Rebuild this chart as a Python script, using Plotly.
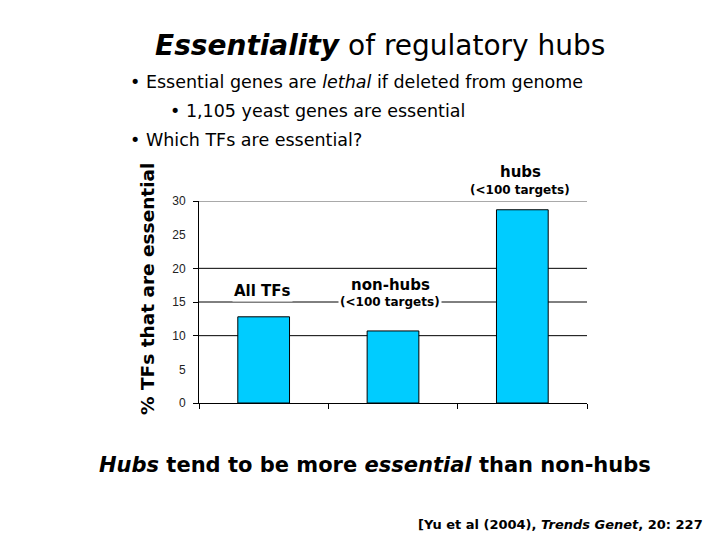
import plotly.graph_objects as go

# ---- data ----
categories = ["All TFs", "non-hubs", "hubs"]
category_notes = ["", "(<100 targets)", "(<100 targets)"]
pct_essential = [12.8, 10.7, 28.7]
y_ticks = [0, 5, 10, 15, 20, 25, 30]
grid_levels = [0, 10, 15, 20, 30]

W, H = 720, 540
L, R, T, B = 199, 133, 201, 137
PW, PH = W - L - R, H - T - B


def px(x):
    return (x - L) / PW


def py(y):
    return (H - B - y) / PH


FONT = "DejaVu Sans"
xs = [i + 0.5 for i in range(len(categories))]

fig = go.Figure()
fig.add_trace(go.Bar(
    x=xs, y=pct_essential, width=0.4,
    marker=dict(color="#00CCFF", line=dict(color="black", width=1)),
    hoverinfo="skip",
))
# empty helper trace so the tick-mark overlay axis is drawn
fig.add_trace(go.Scatter(x=[None], y=[None], yaxis="y2", mode="markers", hoverinfo="skip"))

shapes = [dict(type="line", xref="paper", yref="y", x0=0, x1=1, y0=g, y1=g,
               line=dict(color="#555" if g == max(grid_levels) else "black", width=1), layer="below")
          for g in grid_levels if g > 0]

ann = []
# title
ann.append(dict(xref="paper", yref="paper", x=px(380), y=py(45), xanchor="center", yanchor="middle",
                text="<b><i>Essentiality</i></b> of regulatory hubs", showarrow=False,
                font=dict(family=FONT, size=28, color="black")))
bullets = [
    (128, 82, "• Essential genes are <i>lethal</i> if deleted from genome"),
    (168, 111, "• 1,105 yeast genes are essential"),
    (128, 140, "• Which TFs are essential?"),
]
for bx, by, t in bullets:
    ann.append(dict(xref="paper", yref="paper", x=px(bx), y=py(by), xanchor="left", yanchor="middle",
                    text=t, showarrow=False, font=dict(family=FONT, size=17.5, color="black")))
# y axis title
ann.append(dict(xref="paper", yref="paper", x=px(147), y=py(289), xanchor="center", yanchor="middle",
                text="<b>% TFs that are essential</b>", textangle=-90, showarrow=False,
                font=dict(family=FONT, size=18.5, color="black")))
# category labels
label_pos = [(262, 291, None), (390, 285, 302), (520, 172, 190)]
for (lx, ly, ny), cat, note in zip(label_pos, categories, category_notes):
    ann.append(dict(xref="paper", yref="paper", x=px(lx), y=py(ly), xanchor="center", yanchor="middle",
                    text="<b>%s</b>" % cat, showarrow=False, bgcolor="white",
                    font=dict(family=FONT, size=15, color="black")))
    if note:
        ann.append(dict(xref="paper", yref="paper", x=px(lx), y=py(ny), xanchor="center", yanchor="middle",
                        text="<b>%s</b>" % note.replace("<", "&lt;"), showarrow=False, bgcolor="white",
                        font=dict(family=FONT, size=12, color="black")))
# conclusion
ann.append(dict(xref="paper", yref="paper", x=px(375), y=py(465), xanchor="center", yanchor="middle",
                text="<b><i>Hubs</i> tend to be more <i>essential</i> than non-hubs</b>", showarrow=False,
                font=dict(family=FONT, size=21, color="black")))
ann.append(dict(xref="paper", yref="paper", x=px(705), y=py(524), xanchor="right", yanchor="middle",
                text="<b>[Yu et al (2004), <i>Trends Genet</i>, 20: 227</b>", showarrow=False,
                font=dict(family=FONT, size=13, color="black")))

fig.update_layout(
    width=W, height=H, margin=dict(l=L, r=R, t=T, b=B),
    paper_bgcolor="white", plot_bgcolor="white", showlegend=False,
    xaxis=dict(range=[0, len(categories)], tickvals=list(range(len(categories) + 1)),
               showticklabels=False, ticks="outside", ticklen=5, tickcolor="black",
               showline=True, linecolor="black", linewidth=1, showgrid=False, zeroline=False,
               fixedrange=True),
    yaxis=dict(range=[0, 30], tickvals=y_ticks, ticks="", ticklabelstandoff=10,
               showline=True, linecolor="black", linewidth=1, showgrid=False, zeroline=False,
               tickfont=dict(family="Liberation Sans", size=12, color="#222"), fixedrange=True),
    yaxis2=dict(range=[0, 30], overlaying="y", side="left", anchor="x", tickvals=grid_levels,
                ticks="outside", ticklen=5, tickcolor="black", showticklabels=False,
                showline=False, showgrid=False, zeroline=False, fixedrange=True),
    shapes=shapes, annotations=ann,
)

fig.write_html("out.html", config={"displayModeBar": False},
               post_script="document.body.style.margin='0';document.body.style.padding='0';")
